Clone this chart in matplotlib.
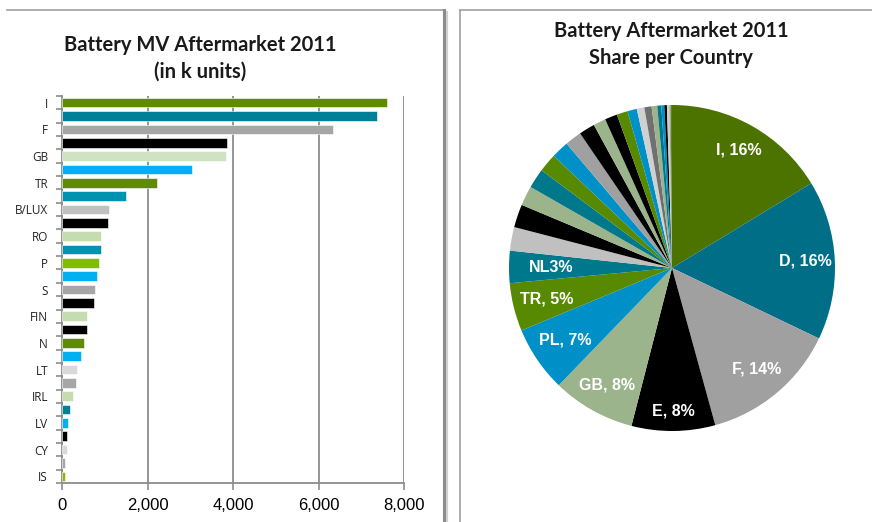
import matplotlib
matplotlib.use("Agg")
import matplotlib.pyplot as plt
from matplotlib.lines import Line2D
import numpy as np

# countries in bar order (only every other one is labelled on the axis)
countries = ['I', 'D', 'F', 'E', 'GB', 'PL', 'TR', 'NL', 'B/LUX', 'CZ',
             'RO', 'H', 'P', 'A', 'S', 'DK', 'FIN', 'SK', 'N', 'BG',
             'LT', 'SLO', 'IRL', 'EST', 'LV', 'HR', 'CY', 'M', 'IS']
units_k = [7600, 7370, 6340, 3860, 3830, 3040, 2220, 1490, 1090, 1065,
           911, 911, 856, 809, 770, 739, 575, 575, 505, 435,
           350, 334, 257, 187, 140, 117, 110, 62, 60]

bar_colors = ['#5f8b00', '#007f99', '#a6a6a6', '#000000', '#cfe2c3',
              '#00b0f0', '#5f8b00', '#0093b0', '#c0c0c0', '#000000',
              '#c4dcb0', '#0093b0', '#80bc00', '#00b0f0', '#a6a6a6',
              '#000000', '#c4dcb0', '#000000', '#5f8b00', '#00b0f0',
              '#d9d9d9', '#a6a6a6', '#c4dcb0', '#00819a', '#00b0f0',
              '#000000', '#d9d9d9', '#a6a6a6', '#80bc00']
pie_colors = ['#4c7300', '#006e87', '#a0a0a0', '#000000', '#9cb48c',
              '#0090c8', '#578a00', '#00788c', '#c0c0c0', '#000000',
              '#9cb48c', '#00788c', '#578a00', '#0090c8', '#a0a0a0',
              '#000000', '#9cb48c', '#000000', '#578a00', '#0090c8',
              '#d0d0d0', '#707070', '#9cb48c', '#00788c', '#0090c8',
              '#000000', '#d0d0d0', '#a0a0a0', '#578a00']
# slices that carry a label in the pie
pie_labels = ['I, 16%', 'D, 16%', 'F, 14%', 'E, 8%', 'GB, 8%',
              'PL, 7%', 'TR, 5%', 'NL3%']
x_ticks = [0, 2000, 4000, 6000, 8000]

W, H = 872, 522
fig = plt.figure(figsize=(W / 100, H / 100), dpi=100)
fig.patch.set_facecolor('white')

# panel frames
fig.add_artist(Line2D([7 / W, 444 / W], [1 - 10 / H, 1 - 10 / H], color='#a0a0a0', lw=1.2))
fig.add_artist(Line2D([444 / W, 444 / W], [0, 1 - 10 / H], color='#8c8c8c', lw=2.2))
fig.add_artist(Line2D([447 / W, 447 / W], [0, 1 - 12 / H], color='#d0d0d0', lw=1.5))
fig.add_artist(Line2D([460 / W, 1], [1 - 10 / H, 1 - 10 / H], color='#a0a0a0', lw=1.2))
fig.add_artist(Line2D([460 / W, 460 / W], [0, 1 - 10 / H], color='#a0a0a0', lw=1.2))

# titles
tfont = dict(family='Lato', fontweight='bold', fontsize=14.5, ha='center', va='center', color='#1a1a1a')
fig.text(200 / W, 1 - 45 / H, 'Battery MV Aftermarket 2011', **tfont)
fig.text(200 / W, 1 - 72 / H, '(in k units)', **tfont)
fig.text(671 / W, 1 - 31 / H, 'Battery Aftermarket 2011', **tfont)
fig.text(671 / W, 1 - 58 / H, 'Share per Country', **tfont)

# bar chart
ax = fig.add_axes([62 / W, 1 - 483 / H, 342 / W, 387 / H])
y = np.arange(len(countries))
ax.barh(y, units_k, height=0.72, color=bar_colors, edgecolor='white', linewidth=0.4, zorder=3)
ax.set_ylim(len(countries) - 0.5, -0.5)
ax.set_xlim(0, 8000)
ax.set_xticks(x_ticks)
ax.set_xticklabels([f'{v:,}' for v in x_ticks], family='Liberation Sans', fontsize=12)
ax.grid(axis='x', color='#8c8c8c', lw=1.3, zorder=0)
ax.set_yticks(y[::2])
ax.set_yticklabels(countries[::2], family='Open Sans', fontsize=8.5, color='#222222')
ax.set_yticks(np.arange(len(countries) + 1) - 0.5, minor=True)
ax.tick_params(axis='y', which='major', length=0, pad=10)
ax.tick_params(axis='y', which='minor', length=4, color='#8c8c8c', width=1.2)
ax.tick_params(axis='x', length=5, color='#8c8c8c', width=1.2, pad=6)
for s in ['top', 'right']:
    ax.spines[s].set_visible(False)
for s in ['left', 'bottom']:
    ax.spines[s].set_color('#8c8c8c')
    ax.spines[s].set_linewidth(1.3)

# pie chart
pax = fig.add_axes([509 / W, 1 - 431 / H, 326 / W, 326 / H])
wedges, _ = pax.pie(units_k, colors=pie_colors, startangle=90, counterclock=False,
                    wedgeprops=dict(linewidth=0))
pax.set_xlim(-1, 1)
pax.set_ylim(-1, 1)
pax.set_aspect('equal')
dist = [0.83, 0.82, 0.81, 0.88, 0.82, 0.79, 0.79, 0.74]
for w, lab, d in zip(wedges, pie_labels, dist):
    ang = np.deg2rad((w.theta1 + w.theta2) / 2)
    pax.text(d * np.cos(ang), d * np.sin(ang), lab, ha='center', va='center',
             color='white', fontweight='bold', fontsize=11.5, family='Liberation Sans')

fig.savefig('out.png', dpi=100)
